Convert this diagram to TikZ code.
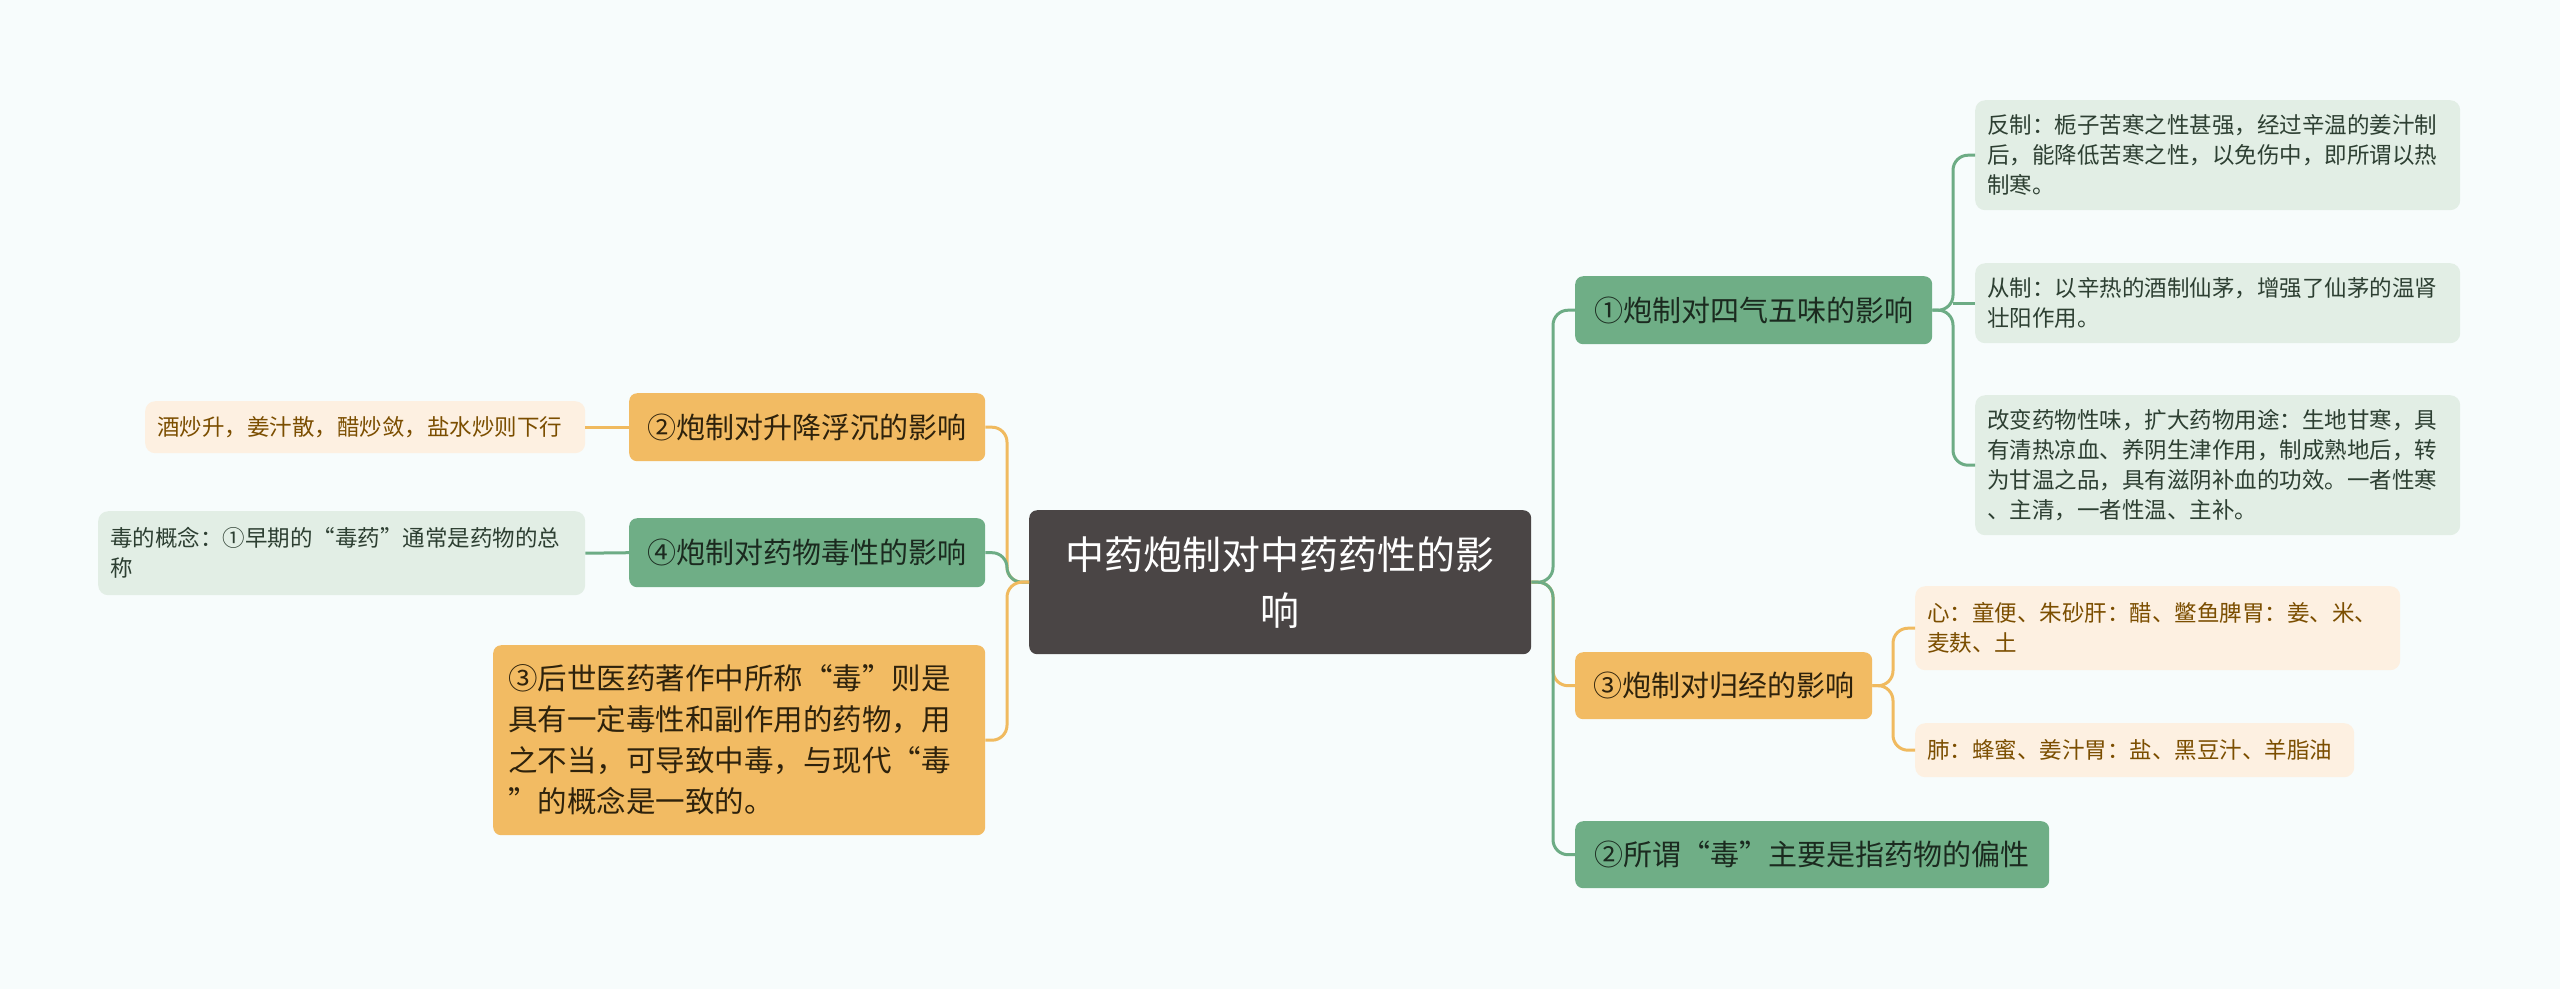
\documentclass[tikz,border=0pt]{standalone}
\usepackage{fontspec}
\newfontfamily\cjk{Noto Sans CJK SC}
\definecolor{bgc}{HTML}{F7FCFC}
\definecolor{gmainc}{HTML}{6FAE86}
\definecolor{omainc}{HTML}{F2BB63}
\definecolor{cenc}{HTML}{4A4545}
\definecolor{gleafc}{HTML}{E2EEE5}
\definecolor{oleafc}{HTML}{FDF0E1}
\definecolor{glinec}{HTML}{6DAC85}
\definecolor{olinec}{HTML}{F0BA5F}
\definecolor{gtxt}{HTML}{1B2A1F}
\definecolor{otxt}{HTML}{2E220C}
\definecolor{gleaftxt}{HTML}{2D3F32}
\definecolor{oleaftxt}{HTML}{7B4E00}
\begin{document}
\begin{tikzpicture}[x=1pt,y=-1pt,
  base/.style={anchor=north west, inner sep=0pt, rounded corners=8pt},
  rootbox/.style={base, fill=cenc, text=white, font=\cjk\fontsize{39}{56}\selectfont, align=center, minimum width=502, minimum height=144},
  gmain/.style={base, fill=gmainc, text=gtxt, font=\cjk\fontsize{29}{38}\selectfont},
  omain/.style={base, fill=omainc, text=otxt, font=\cjk\fontsize{29}{38}\selectfont},
  gleaf/.style={base, fill=gleafc, text=gleaftxt, font=\cjk\fontsize{22.5}{30}\selectfont, align=left, inner xsep=12pt, rounded corners=10pt},
  oleaf/.style={base, fill=oleafc, text=oleaftxt, font=\cjk\fontsize{22.5}{30}\selectfont, align=left, inner xsep=12pt, rounded corners=10pt},
  gline/.style={draw=glinec, line width=3pt, rounded corners=15pt},
  oline/.style={draw=olinec, line width=3pt, rounded corners=15pt}]
\useasboundingbox[fill=bgc] (0,0) rectangle (2560,989);
% trunk coordinates
\coordinate (rt) at (1553,0);
\coordinate (lt) at (1007,0);
\coordinate (st) at (1953,0);
\coordinate (ut) at (1893,0);
% nodes
\node[rootbox] (c) at (1029,510) {中药炮制对中药药性的影\\响};
\node[gmain, minimum width=357, minimum height=68] (r1) at (1575,276) {①炮制对四气五味的影响};
\node[omain, minimum width=297, minimum height=67] (r3) at (1575,652) {③炮制对归经的影响};
\node[gmain, minimum width=474, minimum height=67] (r2) at (1575,821) {②所谓“毒”主要是指药物的偏性};
\node[gleaf, minimum width=485, text width=461pt, minimum height=110] (a1) at (1975,100) {反制：栀子苦寒之性甚强，经过辛温的姜汁制\\后，能降低苦寒之性，以免伤中，即所谓以热\\制寒。};
\node[gleaf, minimum width=485, text width=461pt, minimum height=80] (a2) at (1975,263) {从制：以辛热的酒制仙茅，增强了仙茅的温肾\\壮阳作用。};
\node[gleaf, minimum width=485, text width=461pt, minimum height=140] (a3) at (1975,395) {改变药物性味，扩大药物用途：生地甘寒，具\\有清热凉血、养阴生津作用，制成熟地后，转\\为甘温之品，具有滋阴补血的功效。一者性寒\\、主清，一者性温、主补。};
\node[oleaf, minimum width=485, text width=461pt, minimum height=84] (b1) at (1915,586) {心：童便、朱砂肝：醋、鳖鱼脾胃：姜、米、\\麦麸、土};
\node[oleaf, minimum width=439, text width=415pt, minimum height=54] (b2) at (1915,723) {肺：蜂蜜、姜汁胃：盐、黑豆汁、羊脂油};
\node[omain, minimum width=356, minimum height=68] (l2) at (629,393) {②炮制对升降浮沉的影响};
\node[gmain, minimum width=356, minimum height=69] (l4) at (629,518) {④炮制对药物毒性的影响};
\node[omain, minimum width=492, text width=462pt, inner xsep=15pt, minimum height=190, align=left, font=\cjk\fontsize{29.5}{41}\selectfont] (l3) at (493,645) {③后世医药著作中所称“毒”则是\\具有一定毒性和副作用的药物，用\\之不当，可导致中毒，与现代“毒\\”的概念是一致的。};
\node[oleaf, minimum width=440, text width=416pt, minimum height=52] (d1) at (145,401) {酒炒升，姜汁散，醋炒敛，盐水炒则下行};
\node[gleaf, minimum width=487, text width=463pt, minimum height=84] (d2) at (98,511) {毒的概念：①早期的“毒药”通常是药物的总\\称};
% right connectors
\draw[gline] (c.east) -- (c.east -| rt) |- (r1.west);
\draw[oline] (c.east) -- (c.east -| rt) |- (r3.west);
\draw[gline] (c.east) -- (c.east -| rt) |- (r2.west);
\draw[gline] (r1.east) -- (r1.east -| st) |- (a1.west);
\draw[gline] (r1.east) -- (r1.east -| st) |- (a3.west);
\draw[gline] (a2.west -| st) -- (a2.west);
\draw[oline] (r3.east) -- (r3.east -| ut) |- (b1.west);
\draw[oline] (r3.east) -- (r3.east -| ut) |- (b2.west);
% left connectors
\draw[oline] (c.west) -- (c.west -| lt) |- (l2.east);
\draw[gline] (c.west) -- (c.west -| lt) |- (l4.east);
\draw[oline] (c.west) -- (c.west -| lt) |- (l3.east);
\draw[oline] (l2.west) -- (d1.east);
\draw[gline] (l4.west) -- (d2.east);
\end{tikzpicture}
\end{document}
